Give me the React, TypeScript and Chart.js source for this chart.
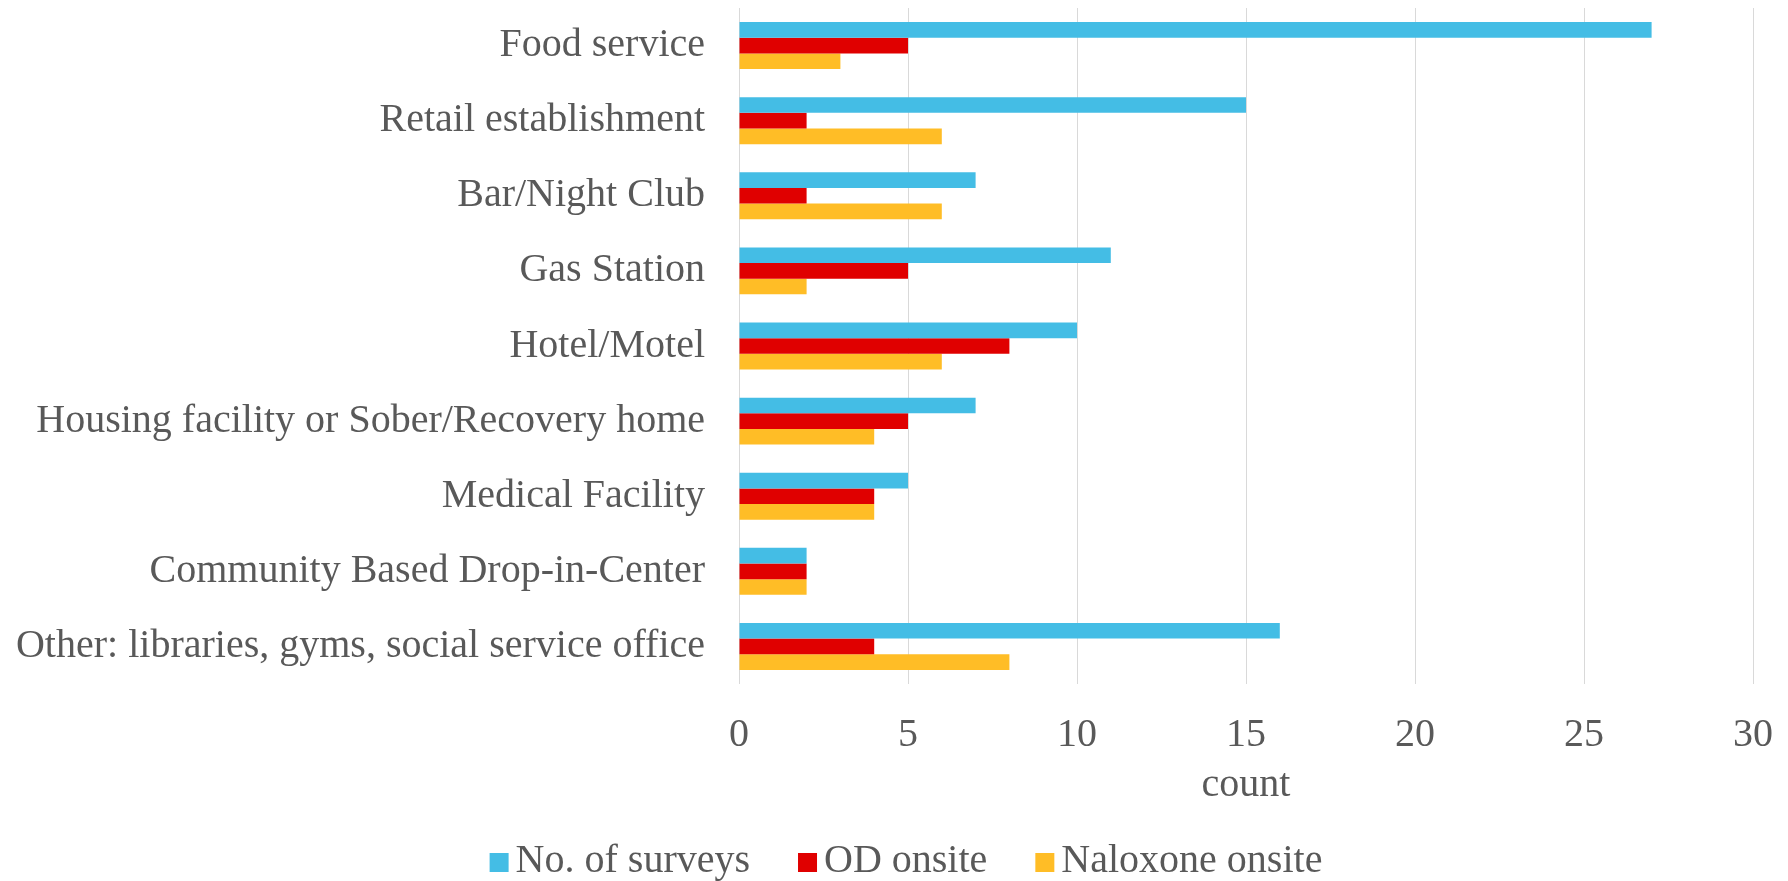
import React, { useEffect, useRef } from "react";
import { Chart, registerables } from "chart.js";

Chart.register(...registerables);

const categories = [
  "Food service",
  "Retail establishment",
  "Bar/Night Club",
  "Gas Station",
  "Hotel/Motel",
  "Housing facility or Sober/Recovery home",
  "Medical Facility",
  "Community Based Drop-in-Center",
  "Other: libraries, gyms, social service office",
];
const surveys = [27, 15, 7, 11, 10, 7, 5, 2, 16];
const odOnsite = [5, 2, 2, 5, 8, 5, 4, 2, 4];
const naloxoneOnsite = [3, 6, 6, 2, 6, 4, 4, 2, 8];
const seriesNames = ["No. of surveys", "OD onsite", "Naloxone onsite"];
const seriesColors = ["#44BDE5", "#E00000", "#FFBD26"];
const xTicks = [0, 5, 10, 15, 20, 25, 30];

const FONT = "'Liberation Serif', 'Times New Roman', serif";
const TEXT = "#595959";

const bottomLegend = {
  id: "bottomLegend",
  afterDraw(chart: any) {
    const ctx = chart.ctx;
    ctx.save();
    ctx.font = `40px ${FONT}`;
    ctx.textBaseline = "alphabetic";
    ctx.textAlign = "left";
    const box = 19;
    const gapText = 7;
    const gapItem = 48;
    const items = chart.data.datasets.map((ds: any) => ({
      text: ds.label,
      color: ds.backgroundColor,
      w: ctx.measureText(ds.label).width,
    }));
    const total =
      items.reduce((s: number, it: any) => s + box + gapText + it.w, 0) +
      gapItem * (items.length - 1);
    let x = 906 - total / 2;
    const baseline = 872;
    for (const it of items) {
      ctx.fillStyle = it.color;
      ctx.fillRect(x, baseline - box, box, box);
      ctx.fillStyle = TEXT;
      ctx.fillText(it.text, x + box + gapText, baseline);
      x += box + gapText + it.w + gapItem;
    }
    ctx.restore();
  },
};

export default function App() {
  const ref = useRef<HTMLCanvasElement | null>(null);
  useEffect(() => {
    if (!ref.current) return;
    const values = [surveys, odOnsite, naloxoneOnsite];
    const chart = new Chart(ref.current, {
      type: "bar",
      data: {
        labels: categories,
        datasets: values.map((v, i) => ({
          label: seriesNames[i],
          data: v,
          backgroundColor: seriesColors[i],
          borderWidth: 0,
          categoryPercentage: 0.625,
          barPercentage: 1,
        })),
      },
      plugins: [bottomLegend],
      options: {
        indexAxis: "y",
        responsive: false,
        animation: false,
        devicePixelRatio: 1,
        layout: { padding: { top: 8, right: 35, left: 0, bottom: 75 } },
        plugins: {
          tooltip: { enabled: false },
          legend: { display: false },
        },
        scales: {
          x: {
            min: 0,
            max: 30,
            afterBuildTicks: (scale: any) => {
              scale.ticks = xTicks.map((v) => ({ value: v }));
            },
            grid: { color: "#D9D9D9", lineWidth: 1, drawTicks: false },
            border: { display: false },
            ticks: {
              font: { family: FONT, size: 40 },
              color: TEXT,
              padding: 27,
              maxRotation: 0,
            },
            title: {
              display: true,
              text: "count",
              font: { family: FONT, size: 40 },
              color: TEXT,
              padding: { top: 0, bottom: -3 },
            },
            afterFit: (scale: any) => {
              scale.height = 122;
              scale.paddingLeft = 0;
              scale.paddingRight = 0;
            },
          },
          y: {
            grid: { display: false, drawTicks: false },
            border: { display: false },
            ticks: {
              font: { family: FONT, size: 40 },
              color: TEXT,
              padding: 34,
              autoSkip: false,
            },
            afterFit: (scale: any) => {
              scale.width = 739;
              scale.paddingTop = 0;
              scale.paddingBottom = 0;
            },
          },
        },
      },
    });
    return () => chart.destroy();
  }, []);
  return (
    <div
      style={{
        position: "fixed",
        left: 0,
        top: 0,
        width: 1788,
        height: 881,
        overflow: "hidden",
        background: "#fff",
      }}
    >
      <canvas ref={ref} width={1788} height={881} style={{ width: 1788, height: 881, display: "block" }} />
    </div>
  );
}
